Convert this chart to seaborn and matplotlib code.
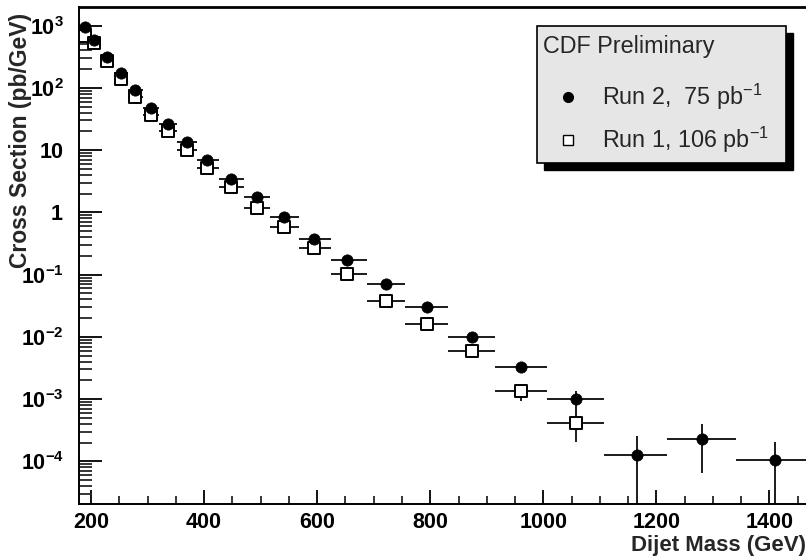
import numpy as np
import pandas as pd
import matplotlib
matplotlib.use("Agg")
import matplotlib.pyplot as plt
import seaborn as sns
from matplotlib.patches import Rectangle
from matplotlib.lines import Line2D
from matplotlib.ticker import FixedLocator, NullFormatter

# ---------------- data ----------------
bin_edges = [180, 197, 217, 241, 265, 292, 321, 353, 388, 427, 470, 517,
             568, 625, 688, 756, 832, 915, 1007, 1108, 1219, 1340, 1474]
run2_mass = [189, 206, 228, 253, 278, 307, 337, 370, 406, 448, 493, 542,
             595, 652, 722, 794, 873, 961, 1058, 1165, 1281, 1409]
run2_xsec = [950, 590, 318, 175, 92.5, 47, 26.3, 13.3, 6.9, 3.5, 1.78, 0.83,
             0.38, 0.175, 0.072, 0.030, 0.0100, 0.0033, 0.00099, 1.29e-4,
             2.33e-4, 1.07e-4]
run2_low = [950, 590, 318, 175, 92.5, 47, 26.3, 13.3, 6.9, 3.5, 1.78, 0.83,
            0.38, 0.175, 0.072, 0.030, 0.0100, 0.0033, 0.00065, 1e-6,
            6.5e-5, 1e-6]
run2_high = [950, 590, 318, 175, 92.5, 47, 26.3, 13.3, 6.9, 3.5, 1.78, 0.83,
             0.38, 0.175, 0.072, 0.030, 0.0100, 0.0033, 0.00136, 2.56e-4,
             3.95e-4, 2.05e-4]

run1_mass = [189, 206, 228, 253, 278, 307, 337, 370, 406, 448, 493, 542,
             595, 652, 722, 794, 873, 961, 1058]
run1_xsec = [680, 521, 274, 137, 70.6, 36.6, 20.5, 10.0, 5.1, 2.52, 1.19, 0.59,
             0.264, 0.1007, 0.038, 0.0164, 0.0059, 0.00134, 4.14e-4]
run1_low = [680, 521, 274, 137, 70.6, 36.6, 20.5, 10.0, 5.1, 2.52, 1.19, 0.59,
            0.264, 0.1007, 0.038, 0.0164, 0.0059, 0.00092, 2.05e-4]
run1_high = [680, 521, 274, 137, 70.6, 36.6, 20.5, 10.0, 5.1, 2.52, 1.19, 0.59,
             0.264, 0.1007, 0.038, 0.0164, 0.0059, 0.00174, 6.5e-4]

legend_title = "CDF Preliminary"
label_run2 = "Run 2,  75 pb$^{-1}$"
label_run1 = "Run 1, 106 pb$^{-1}$"
x_label = "Dijet Mass (GeV)"
y_label = "Cross Section (pb/GeV)"
x_ticks = [200, 400, 600, 800, 1000, 1200, 1400]
y_ticks = [1e-4, 1e-3, 1e-2, 1e-1, 1, 10, 1e2, 1e3]
y_tick_labels = [r"$\mathbf{10^{-4}}$", r"$\mathbf{10^{-3}}$", r"$\mathbf{10^{-2}}$",
                 r"$\mathbf{10^{-1}}$", r"$\mathbf{1}$", r"$\mathbf{10}$",
                 r"$\mathbf{10^{2}}$", r"$\mathbf{10^{3}}$"]

# ---------------- frames ----------------
def make_df(mass, xsec, low, high, n):
    lo_e = np.array(bin_edges[:n], dtype=float)
    hi_e = np.array(bin_edges[1:n + 1], dtype=float)
    m = np.array(mass, dtype=float)
    return pd.DataFrame({"mass": m, "xsec": np.array(xsec, dtype=float),
                         "xlo": m - lo_e, "xhi": hi_e - m,
                         "ylo": np.array(xsec) - np.array(low),
                         "yhi": np.array(high) - np.array(xsec)})

df2 = make_df(run2_mass, run2_xsec, run2_low, run2_high, len(run2_mass))
df1 = make_df(run1_mass, run1_xsec, run1_low, run1_high, len(run1_mass))

sns.set_theme(style="white")
plt.rcParams["font.family"] = ["Liberation Sans", "DejaVu Sans"]
plt.rcParams["mathtext.fontset"] = "custom"
plt.rcParams["mathtext.rm"] = "Liberation Sans"
plt.rcParams["mathtext.it"] = "Liberation Sans"
plt.rcParams["mathtext.bf"] = "Liberation Sans:bold"

W, H = 806, 560
fig = plt.figure(figsize=(W / 100, H / 100), dpi=100)
fig.patch.set_facecolor("white")
ax_l, ax_r, ax_t, ax_b = 79, 806, 7, 504
ax = fig.add_axes([ax_l / W, 1 - ax_b / H, (ax_r - ax_l) / W, (ax_b - ax_t) / H])
ax.set_facecolor("white")

# error bars
for df in (df2, df1):
    ax.errorbar(df["mass"], df["xsec"], xerr=[df["xlo"], df["xhi"]],
                yerr=[df["ylo"], df["yhi"]], fmt="none", ecolor="black",
                elinewidth=1.25, capsize=0, zorder=2)

sns.scatterplot(data=df1, x="mass", y="xsec", marker="s", s=76,
                facecolor="white", edgecolor="black", linewidth=1.4,
                ax=ax, zorder=3, legend=False)
sns.scatterplot(data=df2, x="mass", y="xsec", marker="o", s=66,
                color="black", edgecolor="black", linewidth=0.5,
                ax=ax, zorder=4, legend=False)

ax.set_yscale("log")
ax.set_xlim(178.8, 1464.6)
ax.set_ylim(2.07e-5, 1996)

# ticks
ax.xaxis.set_major_locator(FixedLocator(x_ticks))
ax.xaxis.set_minor_locator(FixedLocator(np.arange(200, 1500, 50)))
ax.set_xticklabels([str(t) for t in x_ticks])
ax.yaxis.set_major_locator(FixedLocator(y_ticks))
minors = [m * 10.0 ** e for e in range(-5, 4) for m in range(2, 10)]
ax.yaxis.set_minor_locator(FixedLocator(minors))
ax.yaxis.set_minor_formatter(NullFormatter())
ax.set_yticklabels(y_tick_labels)

ax.tick_params(axis="x", which="major", direction="in", length=10, width=1.3,
               pad=6, labelsize=15.5, colors="black", bottom=True, top=False)
ax.tick_params(axis="x", which="minor", direction="in", length=5.5, width=1.3,
               bottom=True, top=False)
ax.tick_params(axis="y", which="major", direction="in", length=16.5, width=1.3,
               pad=11, labelsize=15.5, colors="black", left=True, right=False)
ax.tick_params(axis="y", which="minor", direction="in", length=9, width=1.3,
               left=True, right=False)
for lab in ax.get_xticklabels():
    lab.set_fontweight("bold")

for side in ("left", "bottom", "top"):
    ax.spines[side].set_visible(True)
    ax.spines[side].set_color("black")
    ax.spines[side].set_linewidth(1.4)
ax.spines["right"].set_visible(False)
ax.spines["top"].set_linewidth(2.0)

ax.set_xlabel(x_label, fontsize=16, fontweight="bold", ha="right", va="center")
ax.xaxis.set_label_coords(1.0, (ax_b - 545) / (ax_b - ax_t))
ax.set_ylabel(y_label, fontsize=16.5, fontweight="bold", va="center", ha="center")
ax.yaxis.set_label_coords((21 - ax_l) / (ax_r - ax_l), (ax_b - 140) / (ax_b - ax_t))

# ---------------- legend box ----------------
def fx(px):
    return px / W

def fy(py):
    return 1 - py / H

bx0, by0, bx1, by1 = 537, 26, 786, 163
sh = 7
fig.add_artist(Rectangle((fx(bx0 + sh), fy(by1 + sh)), fx(bx1 - bx0), (by1 - by0) / H,
                         transform=fig.transFigure, facecolor="black",
                         edgecolor="black", zorder=10))
fig.add_artist(Rectangle((fx(bx0), fy(by1)), fx(bx1 - bx0), (by1 - by0) / H,
                         transform=fig.transFigure, facecolor="#e6e6e6",
                         edgecolor="black", linewidth=1.2, zorder=11))
fig.text(fx(543), fy(47), legend_title, fontsize=16.8, ha="left", va="center",
         zorder=12)
fig.text(fx(602), fy(97), label_run2, fontsize=16.8, ha="left", va="center",
         zorder=12)
fig.text(fx(602), fy(140), label_run1, fontsize=16.8, ha="left", va="center",
         zorder=12)
fig.add_artist(Line2D([fx(568)], [fy(97)], marker="o", markersize=7,
                      color="black", transform=fig.transFigure, zorder=12))
fig.add_artist(Line2D([fx(568)], [fy(140)], marker="s", markersize=7,
                      markerfacecolor="white", markeredgecolor="black",
                      markeredgewidth=1.0, color="black",
                      transform=fig.transFigure, zorder=12))

fig.savefig("out.png", dpi=100)
